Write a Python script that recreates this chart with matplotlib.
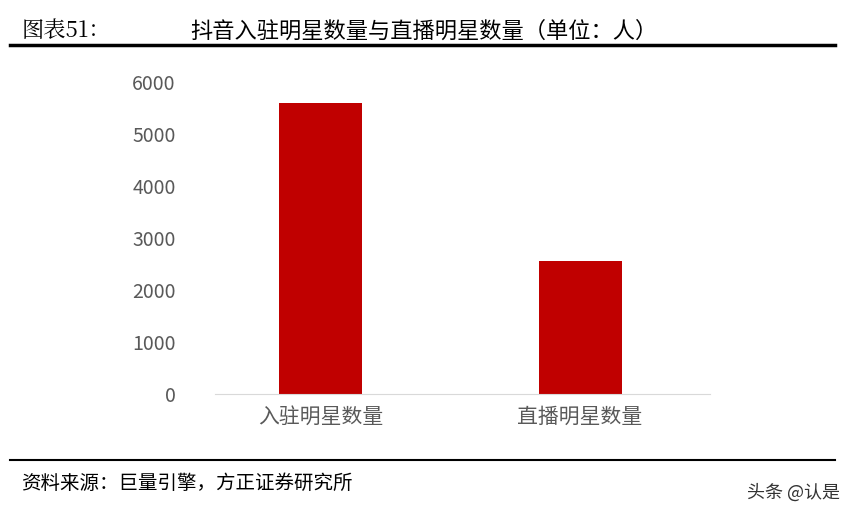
import matplotlib.pyplot as plt

plt.rcParams['font.family'] = ['Noto Sans CJK SC', 'DejaVu Sans']

# data
categories = ["入驻明星数量", "直播明星数量"]
values = [5600, 2570]
yticks = [0, 1000, 2000, 3000, 4000, 5000, 6000]

fig = plt.figure(figsize=(8.55, 5.16), dpi=100)
ax = fig.add_axes([0.251, 0.236, 0.579, 0.605])

ax.bar(range(len(categories)), values, width=0.32, color="#C00000")
ax.set_xlim(-0.41, 1.5)
ax.set_ylim(0, 6000)
ax.set_yticks(yticks)
ax.set_xticks(range(len(categories)))
ax.set_xticklabels(categories, fontsize=15, color="#595959")
ax.tick_params(axis="y", labelsize=14, labelcolor="#595959", length=0, pad=28)
ax.tick_params(axis="x", length=0, pad=8)
for s in ["top", "right", "left"]:
    ax.spines[s].set_visible(False)
ax.spines["bottom"].set_color("#D9D9D9")

# header and footer
fig.text(0.025, 0.94, "图表51：", fontsize=16, family=['Noto Serif CJK SC', 'Noto Sans CJK SC'], va="center")
fig.text(0.222, 0.94, "抖音入驻明星数量与直播明星数量（单位：人）", fontsize=16, va="center")
fig.add_artist(plt.Line2D([0.012, 0.977], [0.912, 0.912], color="black", lw=2.5))
fig.add_artist(plt.Line2D([0.012, 0.977], [0.108, 0.108], color="black", lw=1.5))
fig.text(0.025, 0.063, "资料来源：巨量引擎，方正证券研究所", fontsize=14, style="italic", va="center")
fig.text(0.983, 0.045, "头条 @认是", fontsize=13, ha="right", va="center", color="#333333")

fig.savefig("out.png", dpi=100)
